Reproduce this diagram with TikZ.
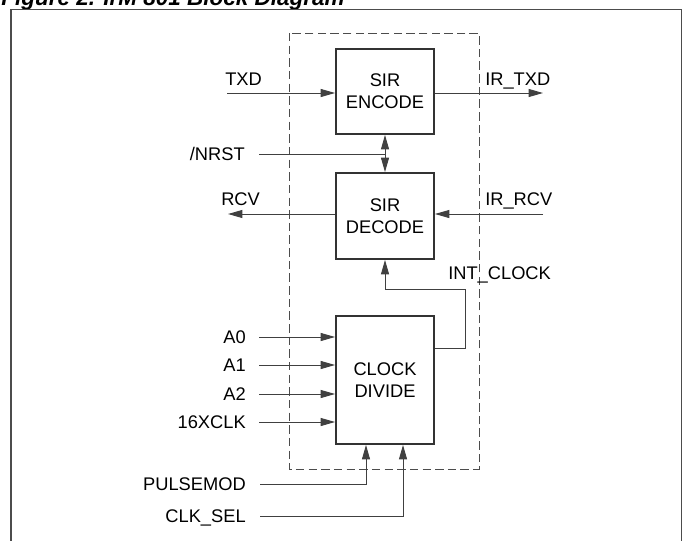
\documentclass[tikz,border=0pt]{standalone}
\usepackage{fontspec}
\setmainfont{Liberation Sans}
\usetikzlibrary{arrows.meta}

\tikzset{
  block/.style={draw=black!80, line width=1.3pt, minimum width=2.45cm, align=center, font=\fontsize{13}{15.6}\selectfont},
  sig/.style={-{Triangle[length=0.36cm,width=0.2cm]}, line width=0.7pt, draw=black!75},
  wire/.style={line width=0.7pt, draw=black!75},
  lbl/.style={font=\fontsize{13}{15.6}\selectfont, inner sep=0pt, text height=9.3pt, text depth=0pt},
}

\begin{document}
\begin{tikzpicture}[x=0.025cm, y=-0.025cm]
		\useasboundingbox (0,0) rectangle (683,540);
		\clip (0,0) rectangle (683,540);
		
		\node[anchor=base west, inner sep=0pt, font=\bfseries\itshape\fontsize{16}{18}\selectfont] (title) at (1,5.5) {Figure 2. IrM 801 Block Diagram};
		\draw[line width=1.3pt, black!70] (11,560) -- (11,9.5) -- (681.5,9.5) -- (681.5,560);
		\draw[black!70, line width=0.6pt, dash pattern=on 6pt off 3pt] (289,33) rectangle (479,469);
		
		\node[block, minimum height=2.125cm] (enc) at (385,91.5) {SIR\\ENCODE};
		\node[block, minimum height=2.15cm] (dec) at (385,216) {SIR\\DECODE};
		\node[block, minimum height=3.2cm] (clk) at (385,380) {CLOCK\\DIVIDE};
		
		\node[lbl, anchor=west] (txd) at (225,79) {TXD};
		\node[lbl, anchor=west] (irtxd) at (485,79) {IR\_TXD};
		\node[lbl, anchor=east] (nrst) at (245,154) {/NRST};
		\node[lbl, anchor=west] (rcv) at (221,199) {RCV};
		\node[lbl, anchor=west] (irrcv) at (485,199) {IR\_RCV};
		\node[lbl, anchor=west] (intclk) at (448,273) {INT\_CLOCK};
		\node[lbl, anchor=east] (pmod) at (246,484) {PULSEMOD};
		\node[lbl, anchor=east] (clksel) at (246,516) {CLK\_SEL};
		
		\coordinate (txdin) at (227,93);
		\coordinate (txdout) at (543,93);
		\coordinate (rcvout) at (228,214);
		\coordinate (rcvin) at (543,214);
		\coordinate (intc) at (465,289);
		\coordinate (intq) at (465,348);
		
		\draw[sig] (txdin) -- (txdin -| enc.west);
		\draw[sig] (txdin -| enc.east) -- (txdout);
		\draw[wire] ([xshift=0.35cm]nrst.east) -- (nrst.east -| enc.south);
		\draw[{Triangle[length=0.36cm,width=0.2cm]}-{Triangle[length=0.36cm,width=0.2cm]}, wire] (enc.south) -- (dec.north);
		\draw[sig] (rcvout -| dec.west) -- (rcvout);
		\draw[sig] (rcvin) -- (rcvin -| dec.east);
		\draw[sig] (intq -| clk.east) -| (intc) -| (dec.south);
		
		\foreach \n/\t/\y in {a0/A0/337, a1/A1/365, a2/A2/394, xclk/16XCLK/422} {
			\node[lbl, anchor=east] (\n) at (246,\y) {\t};
			\draw[sig] ([xshift=0.325cm]\n.east) -- (\n.east -| clk.west);
		}
		
		\draw[sig] ([xshift=0.35cm]pmod.east) -| ([xshift=-0.475cm]clk.south);
		\draw[sig] ([xshift=0.35cm]clksel.east) -| ([xshift=0.45cm]clk.south);
\end{tikzpicture}
\end{document}
